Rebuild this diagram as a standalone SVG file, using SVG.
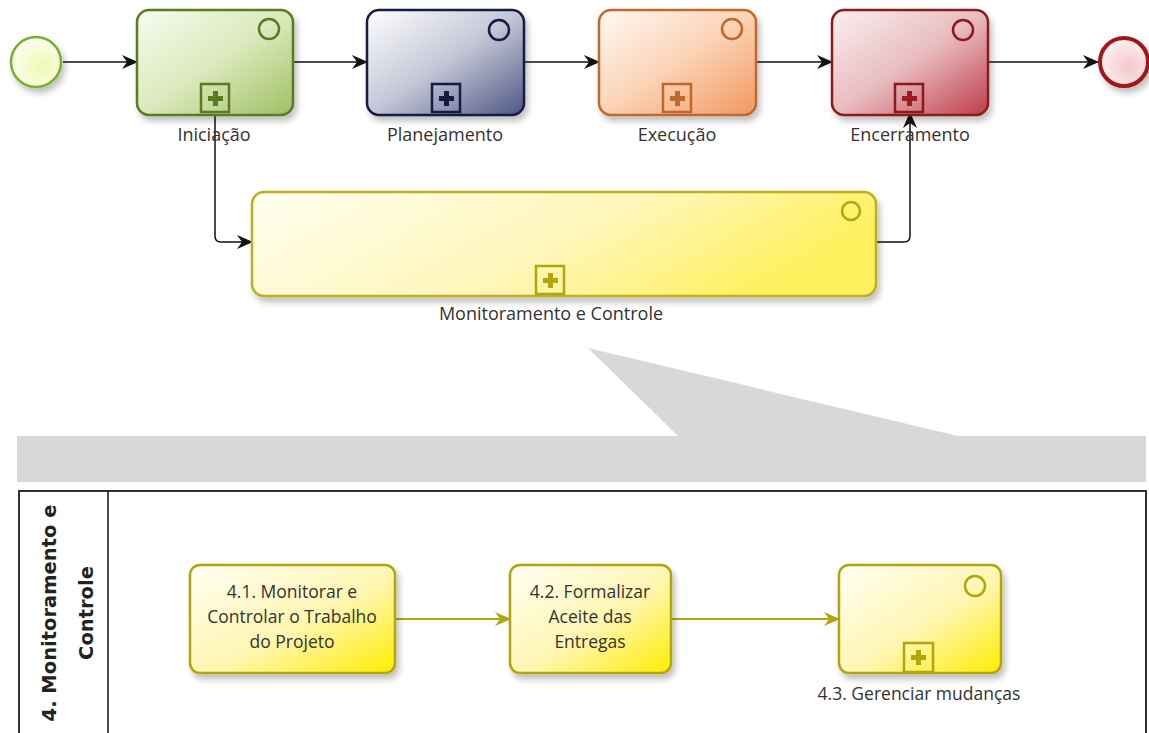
<svg xmlns="http://www.w3.org/2000/svg" width="1149" height="733" viewBox="0 0 1149 733">
<defs>
<style>
.lbl{font-family:"Open Sans","DejaVu Sans",sans-serif;font-size:18px;fill:#333;text-anchor:middle}
.tsk{font-family:"Open Sans","DejaVu Sans",sans-serif;font-size:17.5px;fill:#333;text-anchor:middle}
.lane{font-family:"DejaVu Sans","Open Sans",sans-serif;font-size:19.5px;font-weight:bold;fill:#222;text-anchor:middle}
.flow{fill:none;stroke:#111;stroke-width:1.5}
.yflow{fill:none;stroke:#b3a50c;stroke-width:2}
</style>
<linearGradient id="gG" x1="0" y1="0" x2="1" y2="1"><stop offset="0" stop-color="#f7fbee"/><stop offset="0.5" stop-color="#dbe9bd"/><stop offset="1" stop-color="#9fc062"/></linearGradient>
<linearGradient id="gB" x1="0" y1="0" x2="1" y2="1"><stop offset="0" stop-color="#ffffff"/><stop offset="0.5" stop-color="#c3c6d6"/><stop offset="1" stop-color="#4e5683"/></linearGradient>
<linearGradient id="gO" x1="0" y1="0" x2="1" y2="1"><stop offset="0" stop-color="#fff8f3"/><stop offset="0.5" stop-color="#fbd3b6"/><stop offset="1" stop-color="#f2975e"/></linearGradient>
<linearGradient id="gR" x1="0" y1="0" x2="1" y2="1"><stop offset="0" stop-color="#fbf0f0"/><stop offset="0.5" stop-color="#e8bcbf"/><stop offset="1" stop-color="#bf3d4a"/></linearGradient>
<linearGradient id="gY" x1="0" y1="0" x2="1" y2="1"><stop offset="0" stop-color="#fffef5"/><stop offset="0.55" stop-color="#fff6b0"/><stop offset="1" stop-color="#ffec00"/></linearGradient>
<linearGradient id="gYw" x1="0" y1="0" x2="1" y2="0.3"><stop offset="0" stop-color="#fffef0"/><stop offset="0.6" stop-color="#fff6b8"/><stop offset="1" stop-color="#fff060"/></linearGradient>
<radialGradient id="gS" cx="0.6" cy="0.6" r="0.6"><stop offset="0" stop-color="#f0f8b0"/><stop offset="1" stop-color="#fafff0"/></radialGradient>
<radialGradient id="gE" cx="0.6" cy="0.6" r="0.6"><stop offset="0" stop-color="#f2c8cc"/><stop offset="1" stop-color="#fdf0f0"/></radialGradient>
<filter id="sh" x="-10%" y="-10%" width="130%" height="140%"><feGaussianBlur in="SourceAlpha" stdDeviation="3"/><feOffset dx="3" dy="5"/><feComponentTransfer><feFuncA type="linear" slope="0.25"/></feComponentTransfer><feMerge><feMergeNode/><feMergeNode in="SourceGraphic"/></feMerge></filter>
<marker id="ab" viewBox="0 0 16 14" refX="15" refY="7" markerWidth="16" markerHeight="14" markerUnits="userSpaceOnUse" orient="auto"><path d="M0,0 L16,7 L0,14 L5,7 z" fill="#111"/></marker>
<marker id="ay" viewBox="0 0 16 14" refX="15" refY="7" markerWidth="16" markerHeight="14" markerUnits="userSpaceOnUse" orient="auto"><path d="M0,0 L16,7 L0,14 L5,7 z" fill="#b3a50c"/></marker>
</defs>
<rect width="1149" height="733" fill="#ffffff"/>

<g id="callout">
<polygon points="588,348 678,436 17,436 17,482 1146,482 1146,436 958,436" fill="#d8d8d8"/>
</g>

<g id="pool">
<rect x="19" y="491" width="1127" height="250" fill="#ffffff" stroke="#333" stroke-width="2"/>
<line x1="108" y1="491" x2="108" y2="733" stroke="#111" stroke-width="1.5"/>
<text class="lane" transform="translate(56,613) rotate(-90)">4. Monitoramento e</text>
<text class="lane" transform="translate(93,613) rotate(-90)">Controle</text>
</g>

<g id="connectors">
<line class="flow" x1="63" y1="62" x2="137" y2="62" marker-end="url(#ab)"/>
<line class="flow" x1="293" y1="62" x2="367" y2="62" marker-end="url(#ab)"/>
<line class="flow" x1="524" y1="62" x2="599" y2="62" marker-end="url(#ab)"/>
<line class="flow" x1="756" y1="62" x2="832" y2="62" marker-end="url(#ab)"/>
<line class="flow" x1="988" y1="62" x2="1098" y2="62" marker-end="url(#ab)"/>
<path class="flow" d="M215,112 L215,236 Q215,242 221,242 L252,242" marker-end="url(#ab)"/>
<path class="flow" d="M876,242 L904,242 Q910,242 910,236 L910,113" marker-end="url(#ab)"/>
<line class="yflow" x1="395" y1="619" x2="510" y2="619" marker-end="url(#ay)"/>
<line class="yflow" x1="671" y1="619" x2="839" y2="619" marker-end="url(#ay)"/>
</g>

<g id="start">
<circle cx="36" cy="62" r="25" fill="url(#gS)" stroke="#74b32b" stroke-width="2.5" filter="url(#sh)"/>
</g>

<g id="iniciacao">
<rect x="137" y="10" width="156" height="105" rx="12" fill="url(#gG)" stroke="#5b7a21" stroke-width="2.5" filter="url(#sh)"/>
<circle cx="269" cy="29" r="10" fill="none" stroke="#5b7a21" stroke-width="2.5"/>
<rect x="201" y="84" width="28" height="28" fill="none" stroke="#5b7a21" stroke-width="2.5"/>
<path d="M213,91 h5 v5 h5 v5 h-5 v5 h-5 v-5 h-5 v-5 h5 z" fill="#5b7a21"/>
<text class="lbl" x="214" y="141">Iniciação</text>
</g>

<g id="planejamento">
<rect x="367" y="10" width="157" height="105" rx="12" fill="url(#gB)" stroke="#161a45" stroke-width="2.5" filter="url(#sh)"/>
<circle cx="499" cy="30" r="10" fill="none" stroke="#161a45" stroke-width="2.5"/>
<rect x="432" y="84" width="28" height="28" fill="none" stroke="#161a45" stroke-width="2.5"/>
<path d="M444,91 h5 v5 h5 v5 h-5 v5 h-5 v-5 h-5 v-5 h5 z" fill="#161a45"/>
<text class="lbl" x="445" y="141">Planejamento</text>
</g>

<g id="execucao">
<rect x="599" y="10" width="157" height="105" rx="12" fill="url(#gO)" stroke="#c0672d" stroke-width="2.5" filter="url(#sh)"/>
<circle cx="732" cy="29" r="10" fill="none" stroke="#c0672d" stroke-width="2.5"/>
<rect x="663" y="84" width="28" height="28" fill="none" stroke="#c0672d" stroke-width="2.5"/>
<path d="M675,91 h5 v5 h5 v5 h-5 v5 h-5 v-5 h-5 v-5 h5 z" fill="#c0672d"/>
<text class="lbl" x="677" y="141">Execução</text>
</g>

<g id="encerramento">
<rect x="832" y="10" width="156" height="105" rx="12" fill="url(#gR)" stroke="#8a1a1e" stroke-width="2.5" filter="url(#sh)"/>
<circle cx="963" cy="30" r="10" fill="none" stroke="#8a1a1e" stroke-width="2.5"/>
<rect x="895" y="84" width="28" height="28" fill="none" stroke="#8a1a1e" stroke-width="2.5"/>
<path d="M907,91 h5 v5 h5 v5 h-5 v5 h-5 v-5 h-5 v-5 h5 z" fill="#a01820"/>
<text class="lbl" x="910" y="141">Encerramento</text>
</g>

<g id="end">
<circle cx="1124" cy="62" r="24" fill="url(#gE)" stroke="#a3181c" stroke-width="4" filter="url(#sh)"/>
</g>

<g id="monitoramento">
<rect x="252" y="192" width="624" height="104" rx="12" fill="url(#gYw)" stroke="#bdb01c" stroke-width="2.5" filter="url(#sh)"/>
<circle cx="851" cy="211" r="9" fill="none" stroke="#b3a50c" stroke-width="2.5"/>
<rect x="536" y="266" width="28" height="28" fill="none" stroke="#b3a50c" stroke-width="2.5"/>
<path d="M548,273 h5 v5 h5 v5 h-5 v5 h-5 v-5 h-5 v-5 h5 z" fill="#b3a50c"/>
<text class="lbl" x="551" y="320">Monitoramento e Controle</text>
</g>

<g id="task41">
<rect x="190" y="565" width="205" height="108" rx="10" fill="url(#gY)" stroke="#b3a50c" stroke-width="2.5" filter="url(#sh)"/>
<text class="tsk" x="292" y="598">4.1. Monitorar e</text>
<text class="tsk" x="292" y="623">Controlar o Trabalho</text>
<text class="tsk" x="292" y="648">do Projeto</text>
</g>

<g id="task42">
<rect x="510" y="565" width="161" height="108" rx="10" fill="url(#gY)" stroke="#b3a50c" stroke-width="2.5" filter="url(#sh)"/>
<text class="tsk" x="590" y="598">4.2. Formalizar</text>
<text class="tsk" x="590" y="623">Aceite das</text>
<text class="tsk" x="590" y="648">Entregas</text>
</g>

<g id="task43">
<rect x="839" y="565" width="162" height="108" rx="10" fill="url(#gY)" stroke="#b3a50c" stroke-width="2.5" filter="url(#sh)"/>
<circle cx="975" cy="586" r="10" fill="none" stroke="#b3a50c" stroke-width="2.5"/>
<rect x="904" y="643" width="29" height="29" fill="none" stroke="#b3a50c" stroke-width="2.5"/>
<path d="M916,650 h5 v5 h5 v5 h-5 v5 h-5 v-5 h-5 v-5 h5 z" fill="#b3a50c"/>
<text class="tsk" x="919" y="700">4.3. Gerenciar mudanças</text>
</g>
</svg>
